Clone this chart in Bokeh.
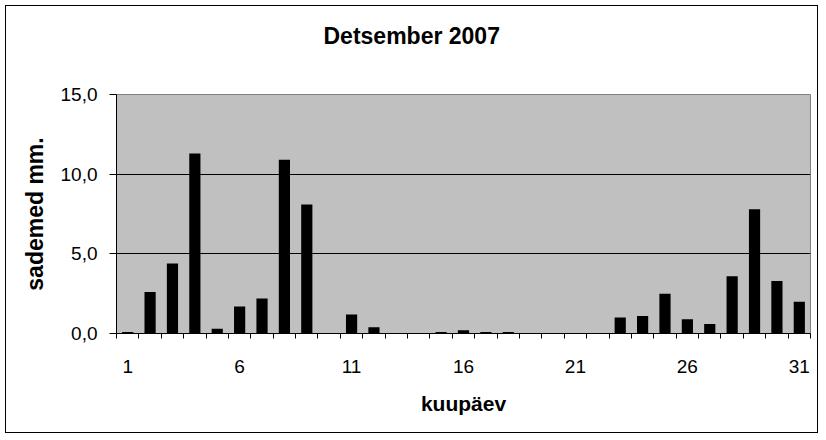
from bokeh.plotting import figure
from bokeh.models import FixedTicker, Range1d, Title
from bokeh.embed import file_html
from bokeh.resources import INLINE

# data
days = [1, 2, 3, 4, 5, 6, 7, 8, 9, 10, 11, 12, 13, 14, 15, 16,
        17, 18, 19, 20, 21, 22, 23, 24, 25, 26, 27, 28, 29, 30, 31]
rain_mm = [0.1, 2.6, 4.4, 11.3, 0.3, 1.7, 2.2, 10.9, 8.1, 0.0, 1.2, 0.4, 0.0, 0.0, 0.1, 0.2,
           0.1, 0.1, 0.0, 0.0, 0.0, 0.0, 1.0, 1.1, 2.5, 0.9, 0.6, 3.6, 7.8, 3.3, 2.0]
x_tick_days = [1, 6, 11, 16, 21, 26, 31]
y_ticks = [0, 5, 10, 15]
y_tick_labels = ["0,0", "5,0", "10,0", "15,0"]
title_text = "Detsember 2007"
x_title = "kuupäev"
y_title = "sademed mm."

FONT = "Liberation Sans"

p = figure(width=813, height=428, output_backend="svg", toolbar_location=None,
           x_range=Range1d(0.5, 31.5), y_range=Range1d(0, 15),
           min_border_left=110, min_border_right=9, min_border_top=88, min_border_bottom=101)
p.styles = {"border": "1px solid black", "margin-left": "5px", "margin-top": "5px"}
p.title.visible = False

p.vbar(x=days, top=rain_mm, width=0.5, fill_color="black", line_color=None)

p.background_fill_color = "#C0C0C0"
p.border_fill_color = "white"
p.outline_line_color = "#808080"
p.outline_line_width = 1

# spacer between plot area and chart title, then the title itself
spacer = Title(text=" ", text_font_size="1px", standoff=38)
p.add_layout(spacer, "above")
title = Title(text=title_text, align="left", offset=207, standoff=10,
              text_font=FONT, text_font_size="23px", text_font_style="bold",
              text_color="black")
p.add_layout(title, "above")

# grids
p.xgrid.visible = False
p.ygrid.ticker = FixedTicker(ticks=[5, 10])
p.ygrid.grid_line_color = "black"
p.ygrid.grid_line_width = 1

# x axis
xa = p.xaxis[0]
xa.ticker = FixedTicker(ticks=x_tick_days, minor_ticks=[d - 0.5 for d in days] + [days[-1] + 0.5])
xa.major_tick_line_color = None
xa.major_tick_out = 5
xa.major_tick_in = 0
xa.minor_tick_out = 5
xa.minor_tick_in = 0
xa.minor_tick_line_color = "black"
xa.axis_line_color = "black"
xa.major_label_standoff = 21
xa.major_label_text_font = FONT
xa.major_label_text_font_size = "19px"
xa.major_label_text_color = "black"
xa.axis_label = x_title
xa.axis_label_text_font = FONT
xa.axis_label_text_font_size = "21px"
xa.axis_label_text_font_style = "bold"
xa.axis_label_text_color = "black"
xa.axis_label_standoff = 16

# y axis
ya = p.yaxis[0]
ya.ticker = FixedTicker(ticks=y_ticks, minor_ticks=[])
ya.major_label_overrides = {t: s for t, s in zip(y_ticks, y_tick_labels)}
ya.major_tick_out = 7
ya.major_tick_in = 0
ya.major_tick_line_color = "black"
ya.minor_tick_line_color = None
ya.axis_line_color = "black"
ya.major_label_standoff = 12
ya.major_label_text_font = FONT
ya.major_label_text_font_size = "19px"
ya.major_label_text_color = "black"
ya.axis_label = y_title
ya.axis_label_text_font = FONT
ya.axis_label_text_font_size = "23px"
ya.axis_label_text_font_style = "bold"
ya.axis_label_text_color = "black"
ya.axis_label_standoff = 10

open("out.html", "w").write(file_html(p, INLINE))
